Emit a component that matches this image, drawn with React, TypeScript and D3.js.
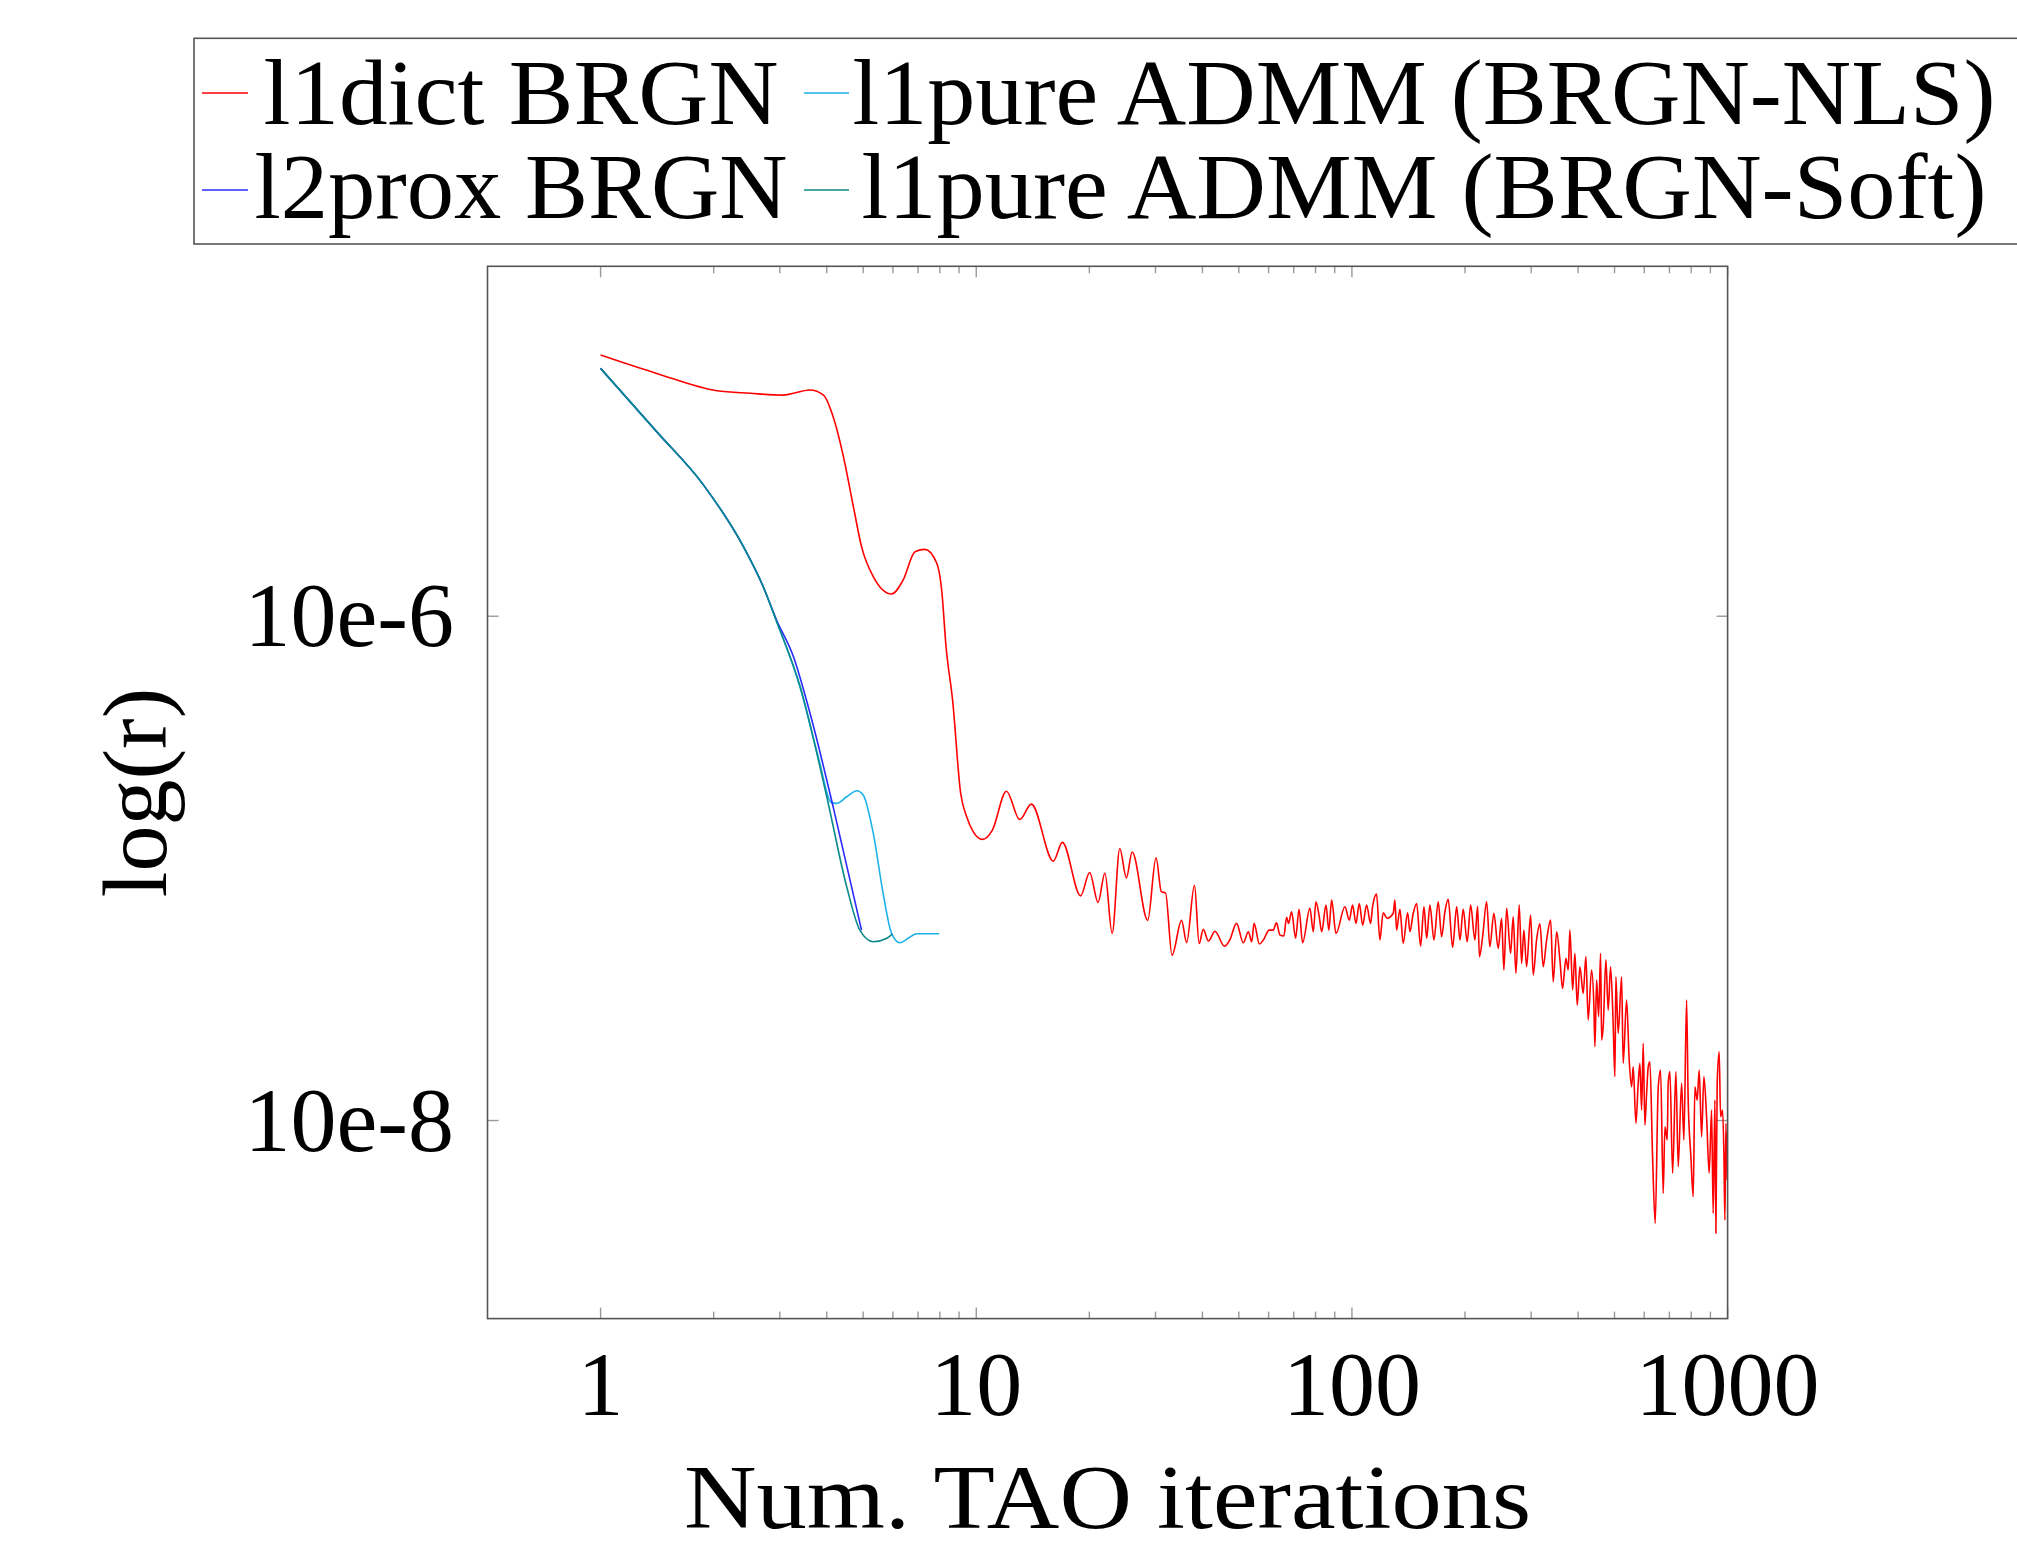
import * as d3 from "d3";

const WIDTH = 2017;
const HEIGHT = 1549;
const PLOT = { left: 487.5, right: 1727.6, top: 266.3, bottom: 1318.6 };
const FONT = "'Liberation Serif', 'Times New Roman', serif";

// axis ticks
const xTickValues = [1, 10, 100, 1000];
const xTickLabels = ["1", "10", "100", "1000"];
const yTickValues = [1e-5, 1e-7];
const yTickLabels = ["10e-6", "10e-8"];

// legend (row-major, two columns)
const legendNames = ["l1dict BRGN", "l1pure ADMM (BRGN-NLS)", "l2prox BRGN", "l1pure ADMM (BRGN-Soft)"];
const legendColors = ["#ff0000", "#1eb2e8", "#2a2aff", "#0b8a8a"];
const legendTextWidths = [515, 1143, 533, 1125];

// l1dict BRGN: iteration, log10(r)
const l1dictIter = [
  1.0, 1.41, 2.04, 2.5, 3.06, 3.61, 3.92, 4.16, 4.43, 4.71, 4.95, 5.32, 5.95, 6.39, 6.87, 7.3, 7.85, 8.09, 8.31, 8.65,
  9.09, 9.43, 9.82, 10.39, 11.04, 12.03, 13.05, 14.02, 16.04, 16.95, 18.96, 20.04, 21.1, 22.0, 23.0, 24.1, 25.1, 26.0, 28.6, 30.1,
  31.1, 31.9, 33.2, 35.2, 36.3, 38.1, 39.2, 40.2, 41.5, 43.2, 45.8, 47.3, 49.3, 51.4, 53.0, 54.1, 54.9, 56.7, 58.1, 60.2,
  61.7, 63.0, 64.3, 65.9, 67.0, 67.8, 69.1, 70.8, 72.3, 73.9, 77.3, 78.9, 80.2, 81.8, 83.1, 85.3, 86.8, 88.3, 90.7, 95.8,
  98.4, 100.4, 102.5, 104.6, 106.8, 109.4, 112.1, 113.5, 116.3, 118.7, 121.1, 124.1, 128.8, 130.1, 131.5, 134.2, 136.9, 140.7, 142.7, 145.6,
  148.7, 152.3, 155.5, 158.1, 161.3, 165.3, 169.7, 173.3, 176.8, 180.4, 185.4, 190.0, 193.9, 197.8, 202.7, 207.0, 212.5, 216.0, 218.5, 222.8,
  228.3, 232.9, 238.7, 245.1, 250.3, 253.8, 258.1, 264.4, 268.7, 273.2, 278.8, 282.9, 286.9, 291.7, 299.0, 303.8, 310.1, 316.5, 323.0, 329.8,
  338.0, 343.4, 350.7, 357.8, 363.7, 371.2, 376.5, 380.4, 386.8, 392.3, 397.8, 404.4, 412.7, 419.6, 425.5, 434.4, 440.7, 443.4, 448.1, 453.6,
  459.1, 462.0, 466.5, 474.3, 481.0, 488.1, 495.9, 501.2, 504.2, 511.4, 522.2, 527.3, 538.4, 547.1, 555.2, 560.7, 570.1, 578.2, 584.2, 590.3,
  596.2, 602.3, 608.8, 614.7, 621.0, 631.4, 641.6, 653.5, 663.2, 673.8, 681.1, 690.6, 694.9, 702.2, 713.9, 728.4, 738.8, 754.3, 765.0, 777.7,
  785.4, 798.6, 809.9, 818.3, 829.9, 840.2, 852.7, 864.7, 879.2, 893.2, 906.5, 915.4, 925.1, 930.7, 938.2, 949.7, 957.8, 969.8, 977.5, 983.6,
  989.7, 997.5,
];
const l1dictLogR = [
  -3.964, -4.037, -4.106, -4.116, -4.123, -4.103, -4.123, -4.209, -4.367, -4.566, -4.724, -4.843, -4.912, -4.856, -4.744, -4.735, -4.79, -4.896, -5.121, -5.333,
  -5.703, -5.795, -5.855, -5.885, -5.848, -5.694, -5.806, -5.745, -5.971, -5.897, -6.109, -6.016, -6.135, -6.018, -6.258, -5.921, -6.038, -5.935, -6.206, -5.958,
  -6.093, -6.097, -6.344, -6.206, -6.294, -6.067, -6.298, -6.242, -6.288, -6.249, -6.309, -6.284, -6.218, -6.295, -6.251, -6.291, -6.218, -6.3, -6.284, -6.245,
  -6.245, -6.216, -6.264, -6.268, -6.194, -6.218, -6.172, -6.277, -6.162, -6.295, -6.158, -6.251, -6.132, -6.189, -6.251, -6.145, -6.245, -6.126, -6.258, -6.152,
  -6.205, -6.145, -6.218, -6.139, -6.225, -6.145, -6.218, -6.152, -6.102, -6.284, -6.176, -6.198, -6.178, -6.126, -6.245, -6.162, -6.297, -6.176, -6.251, -6.178,
  -6.139, -6.308, -6.152, -6.277, -6.145, -6.284, -6.132, -6.271, -6.172, -6.123, -6.313, -6.152, -6.284, -6.162, -6.291, -6.145, -6.284, -6.15, -6.35, -6.271,
  -6.132, -6.311, -6.178, -6.317, -6.198, -6.403, -6.158, -6.337, -6.192, -6.416, -6.145, -6.377, -6.245, -6.39, -6.185, -6.423, -6.284, -6.22, -6.39, -6.284,
  -6.205, -6.45, -6.251, -6.363, -6.476, -6.357, -6.403, -6.245, -6.482, -6.337, -6.542, -6.39, -6.496, -6.35, -6.601, -6.403, -6.549, -6.707, -6.443, -6.588,
  -6.337, -6.681, -6.628, -6.363, -6.562, -6.39, -6.615, -6.826, -6.43, -6.654, -6.43, -6.773, -6.522, -6.76, -6.866, -6.787, -7.011, -6.852, -6.773, -6.958,
  -6.694, -7.018, -6.892, -6.787, -6.767, -7.144, -7.408, -6.872, -6.8, -7.289, -7.025, -7.077, -6.852, -6.806, -7.209, -6.806, -7.183, -6.852, -7.077, -6.522,
  -6.919, -7.144, -7.302, -6.866, -6.919, -6.8, -7.064, -6.826, -6.985, -7.209, -6.958, -7.368, -6.919, -7.447, -6.852, -6.727, -6.985, -6.958, -7.13, -7.395,
  -7.011, -7.236,
];

// l1pure ADMM (BRGN-NLS)
const nlsIter = [1.0, 1.41, 1.88, 2.4, 2.71, 2.94, 3.4, 3.8, 4.12, 4.25, 4.52, 4.81, 5.0, 5.32, 5.65, 5.95, 6.26, 6.59, 6.94, 7.97];
const nlsLogR = [-4.017, -4.268, -4.48, -4.724, -4.883, -5.02, -5.285, -5.56, -5.74, -5.742, -5.716, -5.692, -5.709, -5.861, -6.099, -6.258, -6.295, -6.277, -6.259, -6.259];

// l2prox BRGN
const l2proxIter = [1.0, 1.41, 1.88, 2.4, 2.71, 2.94, 3.26, 3.61, 4.16, 4.95];
const l2proxLogR = [-4.017, -4.268, -4.48, -4.724, -4.883, -5.015, -5.16, -5.385, -5.756, -6.245];

// l1pure ADMM (BRGN-Soft)
const softIter = [1.0, 1.41, 1.88, 2.4, 2.71, 2.94, 3.4, 4.0, 4.52, 4.9, 5.32, 5.78, 5.99];
const softLogR = [-4.017, -4.268, -4.48, -4.724, -4.883, -5.02, -5.28, -5.716, -6.073, -6.245, -6.291, -6.277, -6.26];

const seriesIter = [l1dictIter, nlsIter, l2proxIter, softIter];
const seriesLogR = [l1dictLogR, nlsLogR, l2proxLogR, softLogR];

const x = d3.scaleLog().domain([0.5, 1000]).range([PLOT.left, PLOT.right]);
const y = d3.scaleLog().domain([2.442e-4, 1.639e-8]).range([PLOT.top, PLOT.bottom]);

const line = d3
  .line<[number, number]>()
  .x((d) => x(d[0]))
  .y((d) => y(Math.pow(10, d[1])))
  .curve(d3.curveMonotoneX);

const minorX = x.ticks().filter((t) => t >= 1 && !xTickValues.includes(t));

export default function App() {
  const frame = "#555";
  const tick = "#999";
  return (
    <>
      <style>{"body{margin:0;overflow:hidden;background:#fff}"}</style>
      <svg width={WIDTH} height={HEIGHT} style={{ display: "block" }} fontFamily={FONT}>
        <rect width={WIDTH} height={HEIGHT} fill="#fff" />
        <defs>
          <clipPath id="plot-clip">
            <rect x={PLOT.left} y={PLOT.top} width={PLOT.right - PLOT.left} height={PLOT.bottom - PLOT.top} />
          </clipPath>
        </defs>

        {/* minor + major x ticks, top and bottom, pointing inward */}
        {minorX.map((t) => (
          <g key={"mx" + t} stroke={tick} strokeWidth={1.4}>
            <line x1={x(t)} x2={x(t)} y1={PLOT.bottom} y2={PLOT.bottom - 7} />
            <line x1={x(t)} x2={x(t)} y1={PLOT.top} y2={PLOT.top + 7} />
          </g>
        ))}
        {xTickValues.map((t) => (
          <g key={"x" + t} stroke={tick} strokeWidth={1.4}>
            <line x1={x(t)} x2={x(t)} y1={PLOT.bottom} y2={PLOT.bottom - 11} />
            <line x1={x(t)} x2={x(t)} y1={PLOT.top} y2={PLOT.top + 11} />
          </g>
        ))}
        {yTickValues.map((t) => (
          <g key={"y" + t} stroke={tick} strokeWidth={1.4}>
            <line x1={PLOT.left} x2={PLOT.left + 11} y1={y(t)} y2={y(t)} />
            <line x1={PLOT.right} x2={PLOT.right - 11} y1={y(t)} y2={y(t)} />
          </g>
        ))}

        {/* series */}
        <g clipPath="url(#plot-clip)" fill="none" strokeLinejoin="round">
          {seriesIter.map((iters, i) => (
            <path
              key={legendNames[i]}
              d={line(iters.map((it, j) => [it, seriesLogR[i][j]] as [number, number])) ?? ""}
              stroke={legendColors[i]}
              strokeWidth={1.6}
            />
          ))}
        </g>

        <rect
          x={PLOT.left}
          y={PLOT.top}
          width={PLOT.right - PLOT.left}
          height={PLOT.bottom - PLOT.top}
          fill="none"
          stroke={frame}
          strokeWidth={1.6}
        />

        {/* tick labels */}
        {xTickValues.map((t, i) => (
          <text key={"xl" + t} x={x(t)} y={1415} textAnchor="middle" fontSize={92} fill="#000">
            {xTickLabels[i]}
          </text>
        ))}
        {yTickValues.map((t, i) => (
          <text key={"yl" + t} x={454} y={y(t) + 30} textAnchor="end" fontSize={92} fill="#000">
            {yTickLabels[i]}
          </text>
        ))}

        {/* axis titles */}
        <text
          x={(PLOT.left + PLOT.right) / 2}
          y={1528}
          textAnchor="middle"
          fontSize={90}
          textLength={847}
          lengthAdjust="spacingAndGlyphs"
        >
          Num. TAO iterations
        </text>
        <text
          transform={`translate(166,${(PLOT.top + PLOT.bottom) / 2}) rotate(-90)`}
          textAnchor="middle"
          fontSize={92}
        >
          log(r)
        </text>

        {/* legend */}
        <rect x={194} y={38.3} width={1900} height={205.7} fill="#fff" stroke={frame} strokeWidth={1.6} />
        {legendNames.map((name, i) => {
          const col = i % 2;
          const row = Math.floor(i / 2);
          const lineX = col === 0 ? [202, 248] : [804, 849];
          const lineY = row === 0 ? 93 : 190;
          const textX = col === 0 ? 521 : 1424;
          const baseY = row === 0 ? 124 : 218;
          return (
            <g key={"lg" + name}>
              <line x1={lineX[0]} x2={lineX[1]} y1={lineY} y2={lineY} stroke={legendColors[i]} strokeWidth={1.6} />
              <text
                x={textX}
                y={baseY}
                textAnchor="middle"
                fontSize={94}
                textLength={legendTextWidths[i]}
                lengthAdjust="spacingAndGlyphs"
              >
                {name}
              </text>
            </g>
          );
        })}
      </svg>
    </>
  );
}
